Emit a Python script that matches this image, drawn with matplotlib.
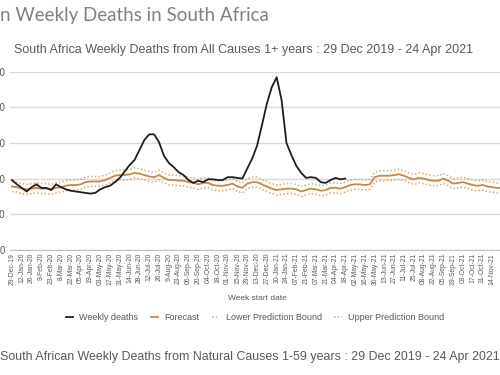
import matplotlib.pyplot as plt

# week index 0 = 29-Dec-19, one value per week
weekly_deaths = [9800, 9200, 8700, 8200, 8800, 9200, 8700, 8700, 8400, 9200,
                 8800, 8500, 8300, 8200, 8100, 8000, 7900, 8000, 8500, 8800,
                 9000, 9500, 10100, 11000, 11900, 12600, 14000, 15400, 16200, 16200,
                 15100, 13200, 12200, 11600, 10900, 10500, 9800, 9400, 9700, 9500,
                 9900, 9900, 9800, 9800, 10200, 10200, 10100, 10000, 11400, 12800,
                 14600, 17500, 20500, 22800, 24200, 21000, 15000, 13300, 11800, 10800,
                 10100, 10200, 10100, 9500, 9400, 9800, 10100, 9900, 10000]

forecast = [8900, 8800, 8600, 8500, 8600, 8700, 8600, 8600, 8500, 8700,
            8800, 9000, 9100, 9100, 9200, 9500, 9600, 9600, 9600, 9800,
            10100, 10400, 10500, 10500, 10600, 10800, 10700, 10500, 10300, 10200,
            10500, 10100, 9800, 9800, 9700, 9700, 9500, 9400, 9200, 9400,
            9400, 9100, 9000, 9000, 9100, 9300, 8900, 8700, 9300, 9500,
            9500, 9200, 8900, 8600, 8400, 8500, 8600, 8600, 8500, 8200,
            8400, 8600, 8500, 8300, 8400, 8700, 8700, 8600, 8800, 9100,
            9200, 9200, 9100, 9200, 10200, 10400, 10400, 10400, 10500, 10600,
            10400, 10100, 9900, 10100, 10000, 9800, 9700, 9700, 10000, 9700,
            9300, 9400, 9500, 9300, 9100, 9000, 9100, 8900, 8800, 8700, 8700]

lower_bound = [8200, 8100, 7900, 7800, 7900, 8000, 7900, 7900, 7800, 8000,
               8100, 8300, 8400, 8400, 8500, 8800, 8900, 8900, 8900, 9100,
               9400, 9700, 9800, 9800, 9900, 10100, 10000, 9800, 9600, 9500,
               9800, 9400, 9100, 9100, 9000, 9000, 8800, 8700, 8500, 8700,
               8700, 8400, 8300, 8300, 8400, 8600, 8200, 8000, 8600, 8800,
               8800, 8500, 8200, 7900, 7700, 7800, 7900, 7900, 7800, 7500,
               7700, 7900, 7800, 7600, 7700, 8000, 8000, 7900, 8100, 8400,
               8500, 8500, 8400, 8500, 9500, 9700, 9700, 9700, 9800, 9900,
               9700, 9400, 9200, 9400, 9300, 9100, 9000, 9000, 9300, 9000,
               8600, 8700, 8800, 8600, 8400, 8300, 8400, 8200, 8100, 8000, 8000]

upper_bound = [9600, 9500, 9300, 9200, 9300, 9400, 9300, 9300, 9200, 9400,
               9500, 9700, 9800, 9800, 9900, 10200, 10300, 10300, 10300, 10500,
               10800, 11100, 11200, 11200, 11300, 11500, 11400, 11200, 11000, 10900,
               11200, 10800, 10500, 10500, 10400, 10400, 10200, 10100, 9900, 10100,
               10100, 9800, 9700, 9700, 9800, 10000, 9600, 9400, 10000, 10200,
               10200, 9900, 9600, 9300, 9100, 9200, 9300, 9300, 9200, 8900,
               9100, 9300, 9200, 9000, 9100, 9400, 9400, 9300, 9500, 9800,
               9900, 9900, 9800, 9900, 10900, 11100, 11100, 11100, 11200, 11300,
               11100, 10800, 10600, 10800, 10700, 10500, 10400, 10400, 10700, 10400,
               10000, 10100, 10200, 10000, 9800, 9700, 9800, 9600, 9500, 9400, 9400]

# labels every second week
week_labels = ['29-Dec-19', '12-Jan-20', '26-Jan-20', '9-Feb-20', '23-Feb-20', '8-Mar-20',
               '22-Mar-20', '05-Apr-20', '19-Apr-20', '03-May-20', '17-May-20', '31-May-20',
               '14-Jun-20', '28-Jun-20', '12-Jul-20', '26-Jul-20', '9-Aug-20', '23-Aug-20',
               '06-Sep-20', '20-Sep-20', '04-Oct-20', '18-Oct-20', '01-Nov-20', '15-Nov-20',
               '29-Nov-20', '13-Dec-20', '27-Dec-20', '10-Jan-21', '24-Jan-21', '07-Feb-21',
               '21-Feb-21', '07-Mar-21', '21-Mar-21', '04-Apr-21', '18-Apr-21', '02-May-21',
               '16-May-21', '30-May-21', '13-Jun-21', '27-Jun-21', '11-Jul-21', '25-Jul-21',
               '08-Aug-21', '22-Aug-21', '05-Sep-21', '19-Sep-21', '03-Oct-21', '17-Oct-21',
               '31-Oct-21', '14-Nov-21']

y_ticks = [0, 5000, 10000, 15000, 20000, 25000]
y_labels = ['0', '5000', '10000', '15000', '20000', '25000']

grey = '#595959'
orange = '#c8864a'
dots = '#e2a868'

fig = plt.figure(figsize=(5, 3.75), dpi=100)
ax = fig.add_axes([0.02, 0.3333, 1.0, 0.476])

ax.plot(range(len(lower_bound)), lower_bound, color=dots, linewidth=1.1,
        linestyle=(0, (1, 1.4)), label='Lower Prediction Bound', zorder=2)
ax.plot(range(len(upper_bound)), upper_bound, color=dots, linewidth=1.1,
        linestyle=(0, (1, 1.4)), label='Upper Prediction Bound', zorder=2)
ax.plot(range(len(forecast)), forecast, color=orange, linewidth=1.3, label='Forecast', zorder=3)
ax.plot(range(len(weekly_deaths)), weekly_deaths, color='#1e1e1e', linewidth=1.3,
        label='Weekly deaths', zorder=4)

ax.set_xlim(-0.4, 101.6)
ax.set_ylim(0, 25000)
ax.set_yticks(y_ticks)
ax.set_yticklabels(y_labels, fontsize=7, color=grey, family='Liberation Sans')
ax.set_xticks(range(0, 2 * len(week_labels), 2))
ax.set_xticklabels(week_labels, rotation=90, fontsize=4.9, color=grey, family='Liberation Sans')
ax.tick_params(axis='both', length=0)
ax.tick_params(axis='y', pad=3.5)
ax.tick_params(axis='x', pad=2)

ax.grid(axis='y', color='#d9d9d9', linewidth=1)
ax.set_axisbelow(True)
for s in ['top', 'right', 'left']:
    ax.spines[s].set_visible(False)
ax.spines['bottom'].set_color('#bfbfbf')

# headings (the screenshot is cropped at the left)
fig.text(0.0, 0.958, 'n Weekly Deaths in South Africa', fontsize=13.5, color='#808080',
         family='Lato', va='center', ha='left')
fig.text(0.028, 0.868, 'South Africa Weekly Deaths from All Causes 1+ years : 29 Dec 2019 - 24 Apr 2021',
         fontsize=9.0, color=grey, family='Liberation Sans', va='center', ha='left')
fig.text(0.514, 0.203, 'Week start date', fontsize=6, color=grey, family='Liberation Sans',
         va='center', ha='center')
fig.text(0.0, 0.048, 'South African Weekly Deaths from Natural Causes 1-59 years : 29 Dec 2019 - 24 Apr 2021',
         fontsize=8.9, color=grey, family='Liberation Sans', va='center', ha='left')

handles, labels = ax.get_legend_handles_labels()
order = [3, 2, 0, 1]
fig.legend([handles[i] for i in order], [labels[i] for i in order], loc='center',
           bbox_to_anchor=(0.51, 0.152), ncol=4, frameon=False,
           handlelength=0.8, columnspacing=1.4, handletextpad=0.7,
           prop={'family': 'Liberation Sans', 'size': 6.5}, labelcolor=grey)

fig.savefig('out.png')
